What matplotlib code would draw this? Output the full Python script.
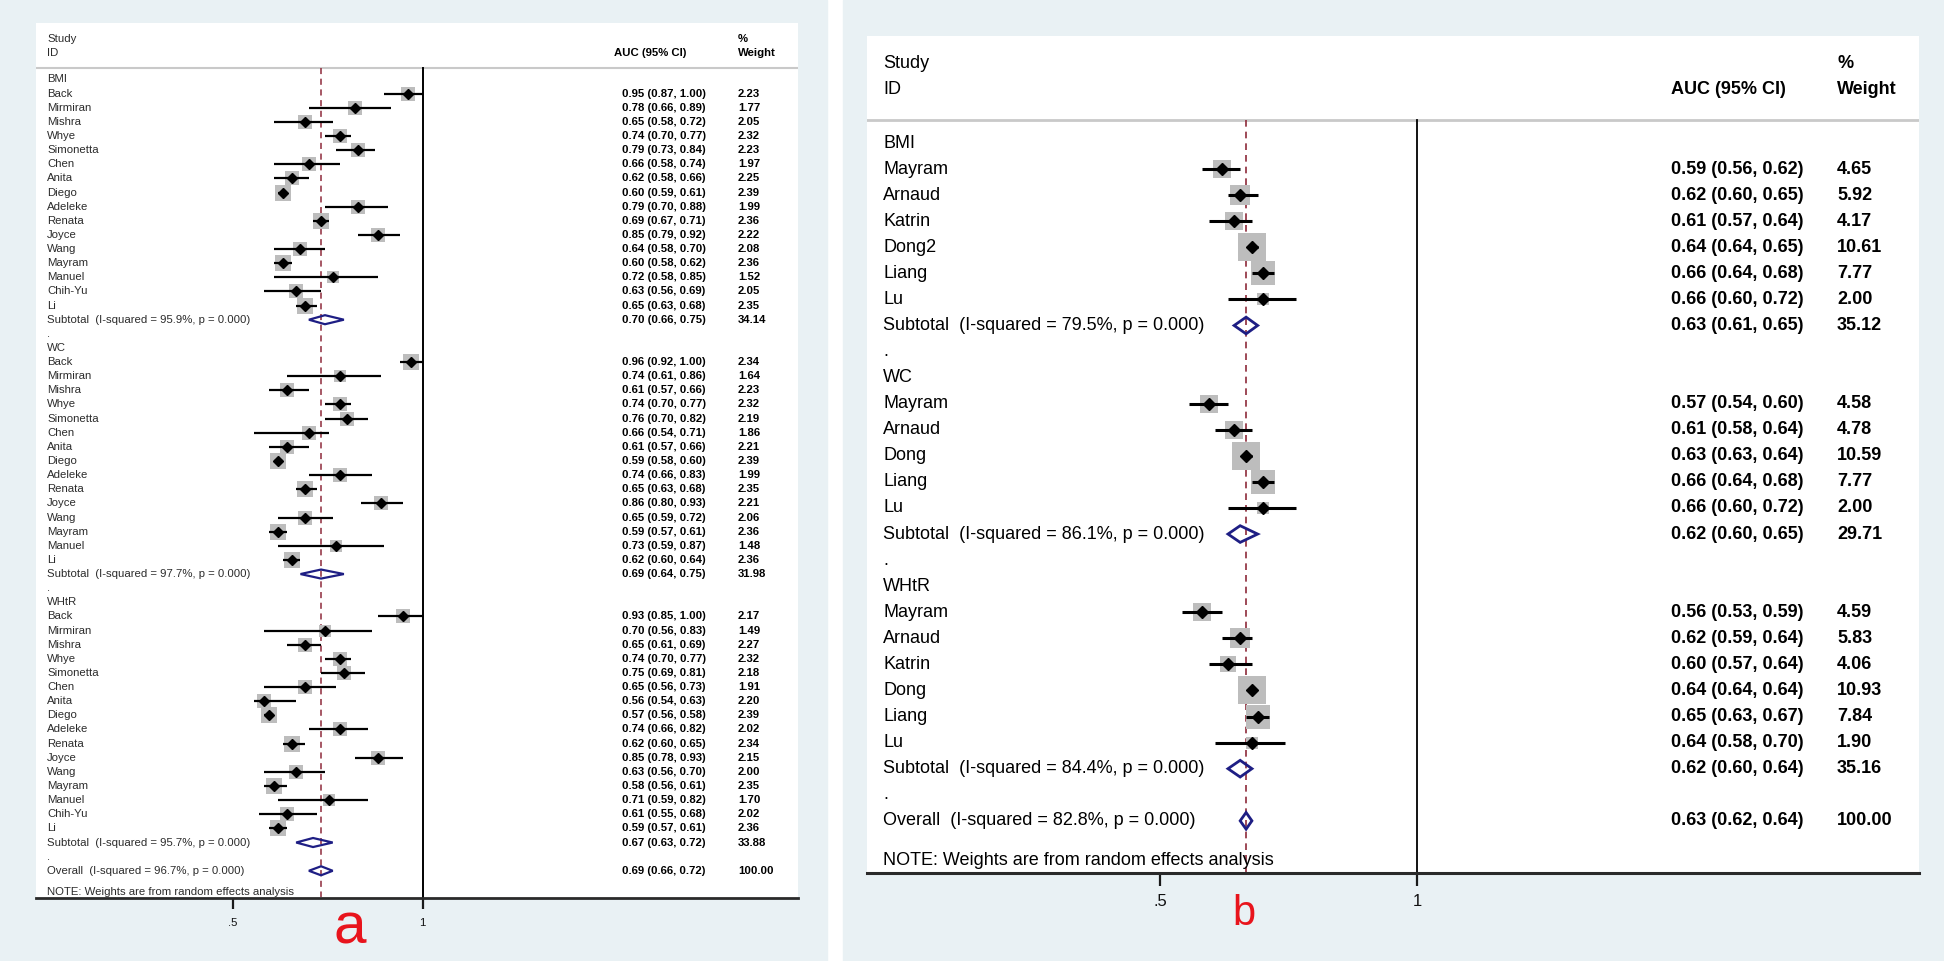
import numpy as np
import matplotlib
matplotlib.use("Agg")
import matplotlib.pyplot as plt
from matplotlib.patches import Rectangle, Polygon
from matplotlib.transforms import blended_transform_factory
from matplotlib.ticker import NullLocator, FixedLocator, FixedFormatter

plt.rcParams['font.family'] = ['Liberation Sans', 'DejaVu Sans']

# ---------------- Panel a data ----------------
a_bmi_study = ["Back", "Mirmiran", "Mishra", "Whye", "Simonetta", "Chen", "Anita", "Diego",
               "Adeleke", "Renata", "Joyce", "Wang", "Mayram", "Manuel", "Chih-Yu", "Li"]
a_bmi_auc = [0.95, 0.78, 0.65, 0.74, 0.79, 0.66, 0.62, 0.60, 0.79, 0.69, 0.85, 0.64, 0.60, 0.72, 0.63, 0.65]
a_bmi_lo = [0.87, 0.66, 0.58, 0.70, 0.73, 0.58, 0.58, 0.59, 0.70, 0.67, 0.79, 0.58, 0.58, 0.58, 0.56, 0.63]
a_bmi_hi = [1.00, 0.89, 0.72, 0.77, 0.84, 0.74, 0.66, 0.61, 0.88, 0.71, 0.92, 0.70, 0.62, 0.85, 0.69, 0.68]
a_bmi_wt = [2.23, 1.77, 2.05, 2.32, 2.23, 1.97, 2.25, 2.39, 1.99, 2.36, 2.22, 2.08, 2.36, 1.52, 2.05, 2.35]
a_bmi_sub = (0.70, 0.66, 0.75, 34.14, 95.9)

a_wc_study = ["Back", "Mirmiran", "Mishra", "Whye", "Simonetta", "Chen", "Anita", "Diego",
              "Adeleke", "Renata", "Joyce", "Wang", "Mayram", "Manuel", "Li"]
a_wc_auc = [0.96, 0.74, 0.61, 0.74, 0.76, 0.66, 0.61, 0.59, 0.74, 0.65, 0.86, 0.65, 0.59, 0.73, 0.62]
a_wc_lo = [0.92, 0.61, 0.57, 0.70, 0.70, 0.54, 0.57, 0.58, 0.66, 0.63, 0.80, 0.59, 0.57, 0.59, 0.60]
a_wc_hi = [1.00, 0.86, 0.66, 0.77, 0.82, 0.71, 0.66, 0.60, 0.83, 0.68, 0.93, 0.72, 0.61, 0.87, 0.64]
a_wc_wt = [2.34, 1.64, 2.23, 2.32, 2.19, 1.86, 2.21, 2.39, 1.99, 2.35, 2.21, 2.06, 2.36, 1.48, 2.36]
a_wc_sub = (0.69, 0.64, 0.75, 31.98, 97.7)

a_whtr_study = ["Back", "Mirmiran", "Mishra", "Whye", "Simonetta", "Chen", "Anita", "Diego",
                "Adeleke", "Renata", "Joyce", "Wang", "Mayram", "Manuel", "Chih-Yu", "Li"]
a_whtr_auc = [0.93, 0.70, 0.65, 0.74, 0.75, 0.65, 0.56, 0.57, 0.74, 0.62, 0.85, 0.63, 0.58, 0.71, 0.61, 0.59]
a_whtr_lo = [0.85, 0.56, 0.61, 0.70, 0.69, 0.56, 0.54, 0.56, 0.66, 0.60, 0.78, 0.56, 0.56, 0.59, 0.55, 0.57]
a_whtr_hi = [1.00, 0.83, 0.69, 0.77, 0.81, 0.73, 0.63, 0.58, 0.82, 0.65, 0.93, 0.70, 0.61, 0.82, 0.68, 0.61]
a_whtr_wt = [2.17, 1.49, 2.27, 2.32, 2.18, 1.91, 2.20, 2.39, 2.02, 2.34, 2.15, 2.00, 2.35, 1.70, 2.02, 2.36]
a_whtr_sub = (0.67, 0.63, 0.72, 33.88, 95.7)
a_overall = (0.69, 0.66, 0.72, 100.00, 96.7)

# ---------------- Panel b data ----------------
b_bmi_study = ["Mayram", "Arnaud", "Katrin", "Dong2", "Liang", "Lu"]
b_bmi_auc = [0.59, 0.62, 0.61, 0.64, 0.66, 0.66]
b_bmi_lo = [0.56, 0.60, 0.57, 0.64, 0.64, 0.60]
b_bmi_hi = [0.62, 0.65, 0.64, 0.65, 0.68, 0.72]
b_bmi_wt = [4.65, 5.92, 4.17, 10.61, 7.77, 2.00]
b_bmi_sub = (0.63, 0.61, 0.65, 35.12, 79.5)

b_wc_study = ["Mayram", "Arnaud", "Dong", "Liang", "Lu"]
b_wc_auc = [0.57, 0.61, 0.63, 0.66, 0.66]
b_wc_lo = [0.54, 0.58, 0.63, 0.64, 0.60]
b_wc_hi = [0.60, 0.64, 0.64, 0.68, 0.72]
b_wc_wt = [4.58, 4.78, 10.59, 7.77, 2.00]
b_wc_sub = (0.62, 0.60, 0.65, 29.71, 86.1)

b_whtr_study = ["Mayram", "Arnaud", "Katrin", "Dong", "Liang", "Lu"]
b_whtr_auc = [0.56, 0.62, 0.60, 0.64, 0.65, 0.64]
b_whtr_lo = [0.53, 0.59, 0.57, 0.64, 0.63, 0.58]
b_whtr_hi = [0.59, 0.64, 0.64, 0.64, 0.67, 0.70]
b_whtr_wt = [4.59, 5.83, 4.06, 10.93, 7.84, 1.90]
b_whtr_sub = (0.62, 0.60, 0.64, 35.16, 84.4)
b_overall = (0.63, 0.62, 0.64, 100.00, 82.8)

group_names = ["BMI", "WC", "WHtR"]
x_ticks = [0.5, 1.0]
x_ticklabels = [".5", "1"]
header_study = ["Study", "ID"]
header_est = "AUC (95% CI)"
header_wt = ["%", "Weight"]
note_text = "NOTE: Weights are from random effects analysis"

W, H, DPI = 1944, 961, 100
BG = '#e9f1f4'
NAVY = '#1e1e84'
DASH = '#8e2a3a'
GREY_BOX = '#bdbdbd'

fig = plt.figure(figsize=(W / DPI, H / DPI), dpi=DPI)
fig.patch.set_facecolor('white')
fig.patches.append(Rectangle((0, 0), 827 / W, 1, transform=fig.transFigure, color=BG, zorder=-10))
fig.patches.append(Rectangle((843 / W, 0), (W - 843) / W, 1, transform=fig.transFigure, color=BG, zorder=-10))


def draw_forest(L, groups, overall):
    left, right, top, bottom = L['box']
    y0, dy = L['row0'], L['drow']
    ax = fig.add_axes([left / W, 1 - bottom / H, (right - left) / W, (bottom - top) / H])
    ax.set_facecolor('white')
    ax.set_xscale('log')
    per = (L['px_one'] - L['px_half']) / np.log(2)
    ax.set_xlim(np.exp((left - L['px_one']) / per), np.exp((right - L['px_one']) / per))
    ytop = (top - y0) / dy
    ybot = (bottom - y0) / dy
    ax.set_ylim(ybot, ytop)
    ax.set_yticks([])
    for s in ['left', 'top', 'right']:
        ax.spines[s].set_visible(False)
    ax.spines['bottom'].set_color('#2a2a2a')
    ax.spines['bottom'].set_linewidth(L['spine_lw'])
    ax.xaxis.set_major_locator(FixedLocator(x_ticks))
    ax.xaxis.set_major_formatter(FixedFormatter(x_ticklabels))
    ax.xaxis.set_minor_locator(NullLocator())
    ax.tick_params(axis='x', direction='out', length=L['tick_len'], width=L['tick_w'],
                   color='#1a1a1a', labelsize=L['tick_fs'], pad=L['tick_pad'], labelcolor='#111111')

    tr = blended_transform_factory(ax.transAxes, ax.transData)

    def fx(px):
        return (px - left) / (right - left)

    fs = L['fs']
    tc = L['text_color']
    vw = L['val_weight']
    hdr = (L['header_px'] - y0) / dy
    # header
    ax.text(fx(L['lab_x']), (L['study_px'] - y0) / dy, header_study[0], transform=tr, fontsize=fs,
            va='center', ha='left', color=tc)
    ax.text(fx(L['lab_x']), (L['id_px'] - y0) / dy, header_study[1], transform=tr, fontsize=fs,
            va='center', ha='left', color=tc)
    ax.text(fx(L['hdr_est_x']), (L['id_px'] - y0) / dy, header_est, transform=tr, fontsize=fs,
            va='center', ha='left', color='black', fontweight=vw)
    ax.text(fx(L['wt_x']), (L['study_px'] - y0) / dy, header_wt[0], transform=tr, fontsize=fs,
            va='center', ha='left', color='black', fontweight=vw)
    ax.text(fx(L['wt_x']), (L['id_px'] - y0) / dy, header_wt[1], transform=tr, fontsize=fs,
            va='center', ha='left', color='black', fontweight=vw)
    ax.axhline(hdr, color='#c9c9c9', lw=L['hdr_lw'], zorder=1)

    # reference lines
    ax.plot([1, 1], [hdr, ybot], color='black', lw=L['null_lw'], zorder=2, clip_on=False)
    ax.plot([overall[0], overall[0]], [hdr, ybot], color=DASH, lw=L['dash_lw'],
            ls=(0, L['dash_pat']), zorder=2)

    def values(e, lo, hi, w, y):
        ax.text(fx(L['est_x']), y, f"{e:.2f} ({lo:.2f}, {hi:.2f})", transform=tr, fontsize=fs,
                va='center', ha='left', color='black', fontweight=vw)
        ax.text(fx(L['wt_x']), y, f"{w:.2f}", transform=tr, fontsize=fs,
                va='center', ha='left', color='black', fontweight=vw)

    def diamond(e, lo, hi, y):
        h = L['diam_h']
        ax.add_patch(Polygon([(lo, y), (e, y - h), (hi, y), (e, y + h)], closed=True, fill=False,
                             edgecolor=NAVY, lw=L['diam_lw'], zorder=6))

    y = 0
    for name, studies, est, lo, hi, wt, sub in groups:
        ax.text(fx(L['lab_x']), y, name, transform=tr, fontsize=fs, va='center', ha='left', color=tc)
        y += 1
        for s, e, l, h, w in zip(studies, est, lo, hi, wt):
            ax.text(fx(L['lab_x']), y, s, transform=tr, fontsize=fs, va='center', ha='left', color=tc)
            ax.scatter([e], [y], marker='s', s=L['box_k'] * w, color=GREY_BOX, linewidths=0, zorder=3)
            ax.plot([l, h], [y, y], color='black', lw=L['ci_lw'], zorder=4, solid_capstyle='butt')
            ax.plot([e], [y], marker='D', ms=L['pt_ms'], color='black', mec='black', zorder=5)
            values(e, l, h, w, y)
            y += 1
        ax.text(fx(L['lab_x']), y, f"Subtotal  (I-squared = {sub[4]:.1f}%, p = 0.000)", transform=tr,
                fontsize=fs, va='center', ha='left', color=tc)
        diamond(sub[0], sub[1], sub[2], y)
        values(sub[0], sub[1], sub[2], sub[3], y)
        y += 1
        ax.text(fx(L['lab_x']), y, ".", transform=tr, fontsize=fs, va='center', ha='left', color=tc)
        y += 1
    ax.text(fx(L['lab_x']), y, f"Overall  (I-squared = {overall[4]:.1f}%, p = 0.000)", transform=tr,
            fontsize=fs, va='center', ha='left', color=tc)
    diamond(overall[0], overall[1], overall[2], y)
    values(overall[0], overall[1], overall[2], overall[3], y)
    ax.text(fx(L['lab_x']), y + L['note_gap'], note_text, transform=tr, fontsize=fs,
            va='center', ha='left', color=tc)
    return ax


groups_a = [
    (group_names[0], a_bmi_study, a_bmi_auc, a_bmi_lo, a_bmi_hi, a_bmi_wt, a_bmi_sub),
    (group_names[1], a_wc_study, a_wc_auc, a_wc_lo, a_wc_hi, a_wc_wt, a_wc_sub),
    (group_names[2], a_whtr_study, a_whtr_auc, a_whtr_lo, a_whtr_hi, a_whtr_wt, a_whtr_sub),
]
groups_b = [
    (group_names[0], b_bmi_study, b_bmi_auc, b_bmi_lo, b_bmi_hi, b_bmi_wt, b_bmi_sub),
    (group_names[1], b_wc_study, b_wc_auc, b_wc_lo, b_wc_hi, b_wc_wt, b_wc_sub),
    (group_names[2], b_whtr_study, b_whtr_auc, b_whtr_lo, b_whtr_hi, b_whtr_wt, b_whtr_sub),
]

layout_a = dict(box=(35.6, 797.5, 23, 897.5), row0=79.5, drow=14.13, px_half=233, px_one=422.5,
                header_px=68, study_px=39, id_px=53, lab_x=47, hdr_est_x=614, est_x=622, wt_x=738,
                fs=8.2, text_color='#2b2b2b', val_weight='semibold', spine_lw=2.0, tick_len=8,
                tick_w=1.6, tick_fs=8.2, tick_pad=7, hdr_lw=1.5, null_lw=1.4, dash_lw=1.1,
                dash_pat=(4, 3), box_k=50, ci_lw=1.6, pt_ms=5.0, diam_h=0.32, diam_lw=1.6,
                note_gap=1.5)
layout_b = dict(box=(867, 1919, 36, 872.7), row0=143, drow=26.07, px_half=1160.4, px_one=1417.4,
                header_px=120, study_px=63, id_px=89, lab_x=883, hdr_est_x=1671, est_x=1671, wt_x=1837,
                fs=13, text_color='black', val_weight='bold', spine_lw=2.2, tick_len=9.5, tick_w=1.6,
                tick_fs=12, tick_pad=6, hdr_lw=2.0, null_lw=1.3, dash_lw=1.2, dash_pat=(4, 3),
                box_k=36, ci_lw=2.2, pt_ms=6.4, diam_h=0.32, diam_lw=2.0, note_gap=1.54)

draw_forest(layout_a, groups_a, a_overall)
draw_forest(layout_b, groups_b, b_overall)

fig.text(350 / W, 1 - 944 / H, "a", color='#e8141c', fontsize=42, ha='center', va='baseline')
fig.text(1244 / W, 1 - 925 / H, "b", color='#e8141c', fontsize=30, ha='center', va='baseline')

fig.savefig("out.png", dpi=DPI, facecolor=fig.get_facecolor())
